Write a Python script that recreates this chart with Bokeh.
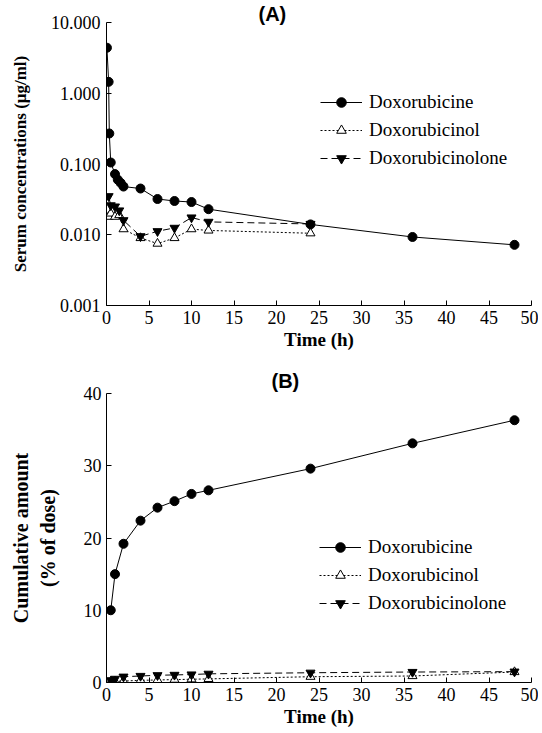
from bokeh.plotting import figure
from bokeh.layouts import column
from bokeh.models import Range1d, FixedTicker, PrintfTickFormatter, Legend, LegendItem
from bokeh.embed import file_html
from bokeh.resources import INLINE

# ---- Panel A data (serum concentrations, ug/ml) ----
tA_dox = [0.05, 0.25, 0.33, 0.5, 1, 1.33, 1.67, 2, 4, 6, 8, 10, 12, 24, 36, 48]
cA_dox = [4.4, 1.45, 0.27, 0.105, 0.072, 0.06, 0.054, 0.048, 0.045, 0.032, 0.030, 0.029, 0.023, 0.014, 0.0093, 0.0072]
tA_met = [0.25, 0.5, 1, 1.5, 2, 4, 6, 8, 10, 12, 24]
cA_ol = [0.018, 0.02, 0.018, 0.019, 0.012, 0.009, 0.0075, 0.009, 0.012, 0.0115, 0.0105]
cA_olone = [0.035, 0.026, 0.025, 0.022, 0.016, 0.0095, 0.0112, 0.0125, 0.0175, 0.0152, 0.0142]
yA_ticks = [0.001, 0.01, 0.1, 1, 10]

# ---- Panel B data (cumulative amount, % of dose) ----
tB = [0.5, 1, 2, 4, 6, 8, 10, 12, 24, 36, 48]
cB_dox = [10, 15, 19.2, 22.4, 24.2, 25.1, 26.1, 26.6, 29.6, 33.1, 36.3]
cB_ol = [0.1, 0.15, 0.2, 0.3, 0.35, 0.4, 0.45, 0.5, 0.8, 0.9, 1.45]
cB_olone = [0.3, 0.5, 0.8, 0.9, 1.0, 1.05, 1.1, 1.2, 1.35, 1.45, 1.5]
yB_ticks = [0, 10, 20, 30, 40]
x_ticks = [0, 5, 10, 15, 20, 25, 30, 35, 40, 45, 50]

names = ["Doxorubicine", "Doxorubicinol", "Doxorubicinolone"]

SERIF = "'Liberation Serif', serif"
SANS = "'Liberation Sans', sans-serif"


def style(p, title, title_offset, title_standoff):
    p.outline_line_color = None
    p.grid.visible = False
    p.background_fill_color = "white"
    p.border_fill_color = "white"
    for ax in (p.xaxis[0], p.yaxis[0]):
        ax.axis_line_color = "black"
        ax.major_tick_line_color = "black"
        ax.major_tick_in = 5
        ax.major_tick_out = 0
        ax.minor_tick_line_color = None
        ax.major_label_text_font = SERIF
        ax.major_label_text_font_size = "18px"
        ax.major_label_text_color = "black"
        ax.axis_label_text_font = SERIF
        ax.axis_label_text_font_style = "bold"
        ax.axis_label_text_color = "black"
    p.xaxis.ticker = FixedTicker(ticks=x_ticks, minor_ticks=[])
    p.xaxis.axis_label = "Time (h)"
    p.xaxis.axis_label_text_font_size = "19px"
    p.xaxis.major_label_standoff = 5
    p.xaxis.axis_label_standoff = 2
    p.title.text = title
    p.title.align = "left"
    p.title.offset = title_offset
    p.title.standoff = title_standoff
    p.title.text_font = SANS
    p.title.text_font_style = "bold"
    p.title.text_font_size = "20px"
    p.title.text_color = "black"


def add_series(p, t1, y1, t2, y2, t3, y3, loc):
    l1 = p.line(t1, y1, line_color="black", line_width=1)
    s1 = p.scatter(t1, y1, marker="circle", size=9, fill_color="black", line_color="black")
    l2 = p.line(t2, y2, line_color="black", line_width=1, line_dash="2 2")
    s2 = p.scatter(t2, y2, marker="triangle", size=9, fill_color="white", line_color="black")
    l3 = p.line(t3, y3, line_color="black", line_width=1, line_dash="7 4")
    s3 = p.scatter(t3, y3, marker="inverted_triangle", size=9, fill_color="black", line_color="black")
    legend = Legend(items=[
        LegendItem(label=names[0], renderers=[l1, s1]),
        LegendItem(label=names[1], renderers=[l2, s2]),
        LegendItem(label=names[2], renderers=[l3, s3]),
    ], location=loc)
    legend.border_line_color = None
    legend.background_fill_alpha = 0
    legend.padding = 0
    legend.margin = 0
    legend.glyph_width = 42
    legend.glyph_height = 24
    legend.spacing = 4
    legend.label_standoff = 7
    legend.label_text_font = SERIF
    legend.label_text_font_size = "19px"
    legend.label_text_color = "black"
    p.add_layout(legend, "center")


# ---- Figure A ----
pA = figure(width=538, height=365, y_axis_type="log",
            x_range=Range1d(0, 50), y_range=Range1d(0.001, 10),
            output_backend="svg", toolbar_location=None,
            min_border_left=106, min_border_right=7, min_border_top=22, min_border_bottom=60)
style(pA, "(A)", 152, -5)
pA.yaxis.ticker = FixedTicker(ticks=yA_ticks, minor_ticks=[])
pA.yaxis.formatter = PrintfTickFormatter(format="%.3f")
pA.yaxis.axis_label = "Serum concentrations (\u03bcg/ml)"
pA.yaxis.axis_label_text_font_size = "17px"
pA.yaxis.major_label_standoff = 6
pA.yaxis.axis_label_standoff = 18
add_series(pA, tA_dox, cA_dox, tA_met, cA_ol, tA_met, cA_olone, (214, 135))

# ---- Figure B ----
pB = figure(width=538, height=368,
            x_range=Range1d(0, 50), y_range=Range1d(0, 40),
            output_backend="svg", toolbar_location=None,
            min_border_left=93, min_border_right=7, min_border_top=28, min_border_bottom=51)
style(pB, "(B)", 165, 4)
pB.yaxis.ticker = FixedTicker(ticks=yB_ticks, minor_ticks=[])
pB.yaxis.axis_label = "Cumulative amount\n(% of dose)"
pB.yaxis.axis_label_text_font_size = "20px"
pB.yaxis.major_label_standoff = 5
pB.yaxis.axis_label_standoff = 22
add_series(pB, tB, cB_dox, tB, cB_ol, tB, cB_olone, (213, 67))

layout = column(pA, pB, spacing=0)
open("out.html", "w").write(file_html(layout, INLINE))
